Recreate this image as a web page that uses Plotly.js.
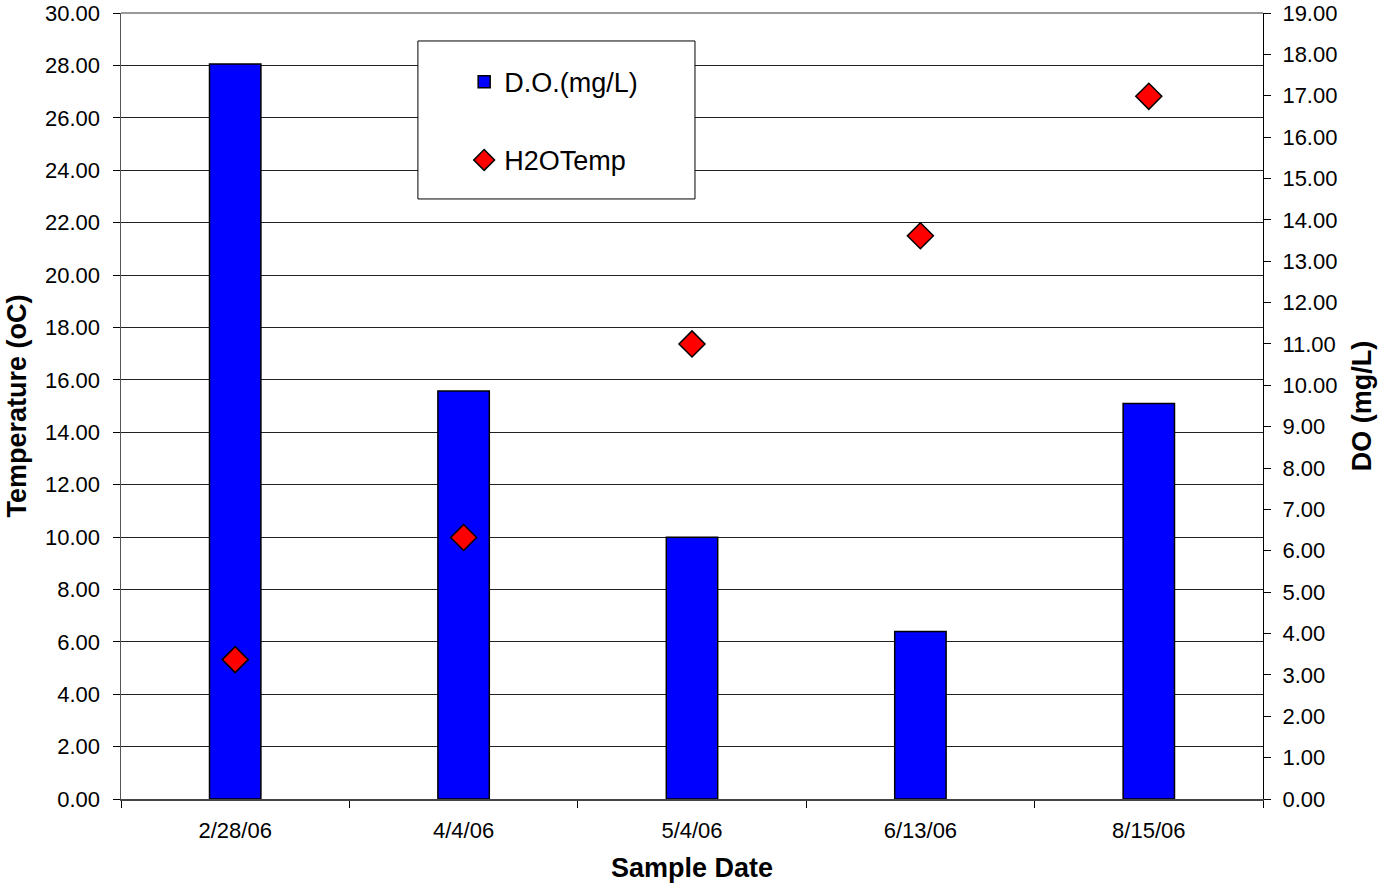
<!DOCTYPE html>
<html>
<head>
<meta charset="utf-8">
<script src="https://cdn.plot.ly/plotly-3.0.1.min.js"></script>
<style>
    html, body { margin: 0; padding: 0; background: #ffffff; }
    #grafico { width: 1379px; height: 885px; }
</style>
</head>
<body>
<div id="grafico"></div>
<script>
// ============================================
// D.O. (bars, right axis) and water temperature (diamonds, left axis)
// ============================================

// Data
const fechas = ['2/28/06', '4/4/06', '5/4/06', '6/13/06', '8/15/06'];
const oxigenoDisuelto = [17.77, 9.86, 6.33, 4.05, 9.56];   // mg/L
const temperaturaAgua = [5.32, 9.98, 17.37, 21.50, 26.82]; // oC

const fuente = 'Liberation Sans, Arial, sans-serif';

// Bars on the main y axis (drawn first, below the diamonds)
const trazaOD = {
    x: fechas,
    y: oxigenoDisuelto,
    type: 'bar',
    name: 'D.O.(mg/L)',
    legendgroup: 'od',
    yaxis: 'y',
    width: 0.225,
    marker: {
        color: '#0000ff',
        line: { color: '#000000', width: 1.5 }
    },
    hoverinfo: 'skip'
};

// Diamonds on the overlaid temperature axis (drawn on top)
const trazaTemp = {
    x: fechas,
    y: temperaturaAgua,
    type: 'scatter',
    mode: 'markers',
    name: 'H2OTemp',
    legendgroup: 'temp',
    yaxis: 'y2',
    marker: {
        symbol: 'diamond',
        size: 20,
        color: '#ff0000',
        line: { color: '#000000', width: 1.5 }
    },
    hoverinfo: 'skip'
};

const fuenteTicks = { family: fuente, size: 22, color: '#000000' };
const fuenteTitulo = { family: fuente, size: 27, color: '#000000', weight: 'bold' };

const layout = {
    width: 1379,
    height: 885,
    paper_bgcolor: '#ffffff',
    plot_bgcolor: '#ffffff',
    margin: { t: 13, r: 116, b: 86, l: 121 },
    showlegend: true,
    bargap: 0,

    xaxis: {
        type: 'category',
        tickson: 'boundaries',
        ticks: 'outside',
        ticklen: 7,
        tickcolor: '#000000',
        tickfont: fuenteTicks,
        ticklabelstandoff: 11,
        showline: true,
        linecolor: '#444444',
        linewidth: 2,
        showgrid: false,
        zeroline: false,
        title: { text: 'Sample Date', font: fuenteTitulo, standoff: 16 }
    },

    // DO axis (right)
    yaxis: {
        side: 'right',
        range: [0, 19],
        dtick: 1,
        tickformat: '.2f',
        ticks: 'outside',
        ticklen: 7,
        tickcolor: '#000000',
        tickfont: fuenteTicks,
        ticklabelstandoff: 7,
        ticklabeloverflow: 'allow',
        showline: true,
        linecolor: '#000000',
        linewidth: 1,
        showgrid: false,
        zeroline: false,
        title: { text: 'DO (mg/L)', font: fuenteTitulo, standoff: 15 }
    },

    // Temperature axis (left) with the gridlines
    yaxis2: {
        overlaying: 'y',
        side: 'left',
        range: [0, 30],
        dtick: 2,
        tickformat: '.2f',
        ticks: 'outside',
        ticklen: 7,
        tickcolor: '#000000',
        tickfont: fuenteTicks,
        ticklabelstandoff: 8,
        ticklabeloverflow: 'allow',
        showline: true,
        linecolor: '#555555',
        linewidth: 1.5,
        showgrid: true,
        gridcolor: '#222222',
        gridwidth: 1,
        zeroline: false,
        title: { text: 'Temperature (oC)', font: fuenteTitulo, standoff: 10 }
    },

    // Inner half of the crossing ticks on the DO axis
    yaxis3: {
        overlaying: 'y',
        side: 'right',
        range: [0, 19],
        dtick: 1,
        ticks: 'inside',
        ticklen: 7,
        tickcolor: '#000000',
        showticklabels: false,
        showline: false,
        showgrid: false,
        zeroline: false
    },

    legend: {
        x: 0.3005,
        y: 0.943,
        xanchor: 'left',
        yanchor: 'top',
        bgcolor: 'rgba(0,0,0,0)',
        borderwidth: 0,
        traceorder: 'grouped',
        tracegroupgap: 40,
        font: { family: fuente, size: 27, color: '#000000' }
    },

    shapes: [
        // Top gridline (30.00), which Plotly leaves out at the edge
        {
            type: 'line',
            xref: 'paper',
            yref: 'paper',
            x0: 0, x1: 1,
            y0: 1, y1: 1,
            line: { color: '#777777', width: 1.5 },
            layer: 'below'
        },
        // Legend frame
        {
            type: 'rect',
            xref: 'paper',
            yref: 'paper',
            x0: 0.260, x1: 0.5026,
            y0: 0.7634, y1: 0.9644,
            fillcolor: '#ffffff',
            line: { color: '#000000', width: 1 },
            layer: 'above'
        }
    ]
};

const config = { displayModeBar: false, staticPlot: true };

Plotly.newPlot('grafico', [trazaOD, trazaTemp], layout, config);
</script>
</body>
</html>
